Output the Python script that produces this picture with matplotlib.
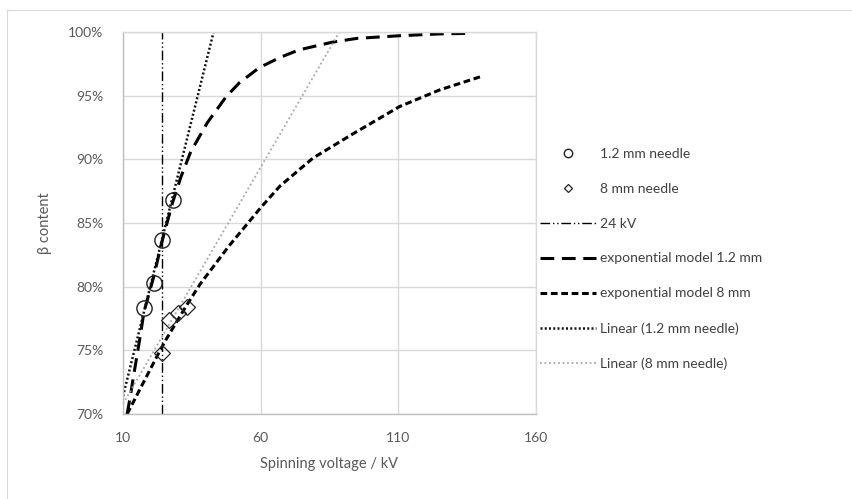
import matplotlib
matplotlib.use("Agg")
import matplotlib.pyplot as plt
from matplotlib.lines import Line2D

plt.rcParams['font.family'] = ['Lato', 'DejaVu Sans']

# measured points (kV, beta fraction)
needle12_kv = [17.6, 21.3, 24.1, 28.0]
needle12_beta = [0.783, 0.803, 0.837, 0.868]
needle8_kv = [24.0, 26.7, 30.0, 33.4]
needle8_beta = [0.748, 0.774, 0.779, 0.784]

# 24 kV marker line
ref_kv = [24, 24]
ref_beta = [0.70, 1.00]

# exponential model curves
exp12_kv = [11.5, 12.5, 14, 16.4, 17.6, 21.3, 24.1, 28, 31, 34.6, 40.7, 47.4,
            52.2, 59.5, 67, 74, 86, 95, 110, 125, 137]
exp12_beta = [0.700, 0.712, 0.732, 0.763, 0.780, 0.809, 0.835, 0.866, 0.886, 0.906,
              0.929, 0.949, 0.960, 0.972, 0.980, 0.986, 0.992, 0.995, 0.997, 0.9985, 0.999]
exp8_kv = [11.5, 17, 23, 25.5, 33, 38, 48.5, 60, 67, 79, 93.5, 110.5, 125, 140]
exp8_beta = [0.700, 0.723, 0.748, 0.758, 0.785, 0.802, 0.832, 0.862, 0.879, 0.901,
             0.920, 0.9415, 0.9545, 0.965]

# linear trendlines (end points)
lin12_kv = [10, 42.9]
lin12_beta = [0.714, 1.00]
lin8_kv = [10, 88.6]
lin8_beta = [0.708, 1.00]

grid_c = '#d9d9d9'
text_c = '#595959'

fig = plt.figure(figsize=(8.53, 4.99), dpi=100)
ax = fig.add_axes([123 / 853, 85 / 499, 413 / 853, 382 / 499])

# chart frame (only top and left edges are visible in the crop)
fig.add_artist(Line2D([7 / 853, 1], [1 - 10 / 499] * 2, color=grid_c, lw=0.8))
fig.add_artist(Line2D([7 / 853] * 2, [0, 1 - 10 / 499], color=grid_c, lw=0.8))

ax.plot(needle12_kv, needle12_beta, 'o', ms=11, mfc='none', mec='#222222', mew=1.0,
        label='1.2 mm needle', zorder=5)
ax.plot(needle8_kv, needle8_beta, 'D', ms=8, mfc='none', mec='#222222', mew=0.9,
        label='8 mm needle', zorder=5)
ax.plot(ref_kv, ref_beta, color='black', lw=1.0, dashes=(7, 2, 1, 2, 1, 2),
        label='24 kV')
ax.plot(exp12_kv, exp12_beta, color='black', lw=2.2, dashes=(4.5, 2.5),
        label='exponential model 1.2 mm')
ax.plot(exp8_kv, exp8_beta, color='black', lw=2.2, dashes=(2.2, 1.2),
        label='exponential model 8 mm')
ax.plot(lin12_kv, lin12_beta, color='#111111', lw=1.8, dashes=(0.8, 0.9),
        dash_capstyle='butt', label='Linear (1.2 mm needle)')
ax.plot(lin8_kv, lin8_beta, color='#a6a6a6', lw=1.3, dashes=(1, 1.5),
        dash_capstyle='butt', label='Linear (8 mm needle)')

ax.set_xlim(10, 160)
ax.set_ylim(0.70, 1.00)
ax.set_xticks([10, 60, 110, 160])
ax.set_yticks([0.70, 0.75, 0.80, 0.85, 0.90, 0.95, 1.00])
ax.set_yticklabels([f'{v:.0f}%' for v in [70, 75, 80, 85, 90, 95, 100]])
ax.grid(True, color=grid_c, lw=1.0)
ax.set_axisbelow(True)
for s in ax.spines.values():
    s.set_color(grid_c)
    s.set_linewidth(1.0)
ax.spines['left'].set_color('#bfbfbf')
ax.spines['bottom'].set_color('#bfbfbf')
ax.tick_params(length=0, labelsize=10, labelcolor=text_c)
ax.tick_params(axis='y', pad=14)
ax.tick_params(axis='x', pad=13)

ax.set_xlabel('Spinning voltage / kV', fontsize=10.5, color=text_c, labelpad=9)
ax.set_ylabel('β content', fontsize=10.5, color=text_c, labelpad=12)

fig.legend(loc='center left', bbox_to_anchor=(540 / 853, 1 - 259 / 499),
           frameon=False, fontsize=10, labelcolor='#404040', handlelength=4.0,
           handletextpad=0.3, labelspacing=1.65, markerscale=0.55,
           borderpad=0, borderaxespad=0)

fig.savefig('out.png', dpi=100)
